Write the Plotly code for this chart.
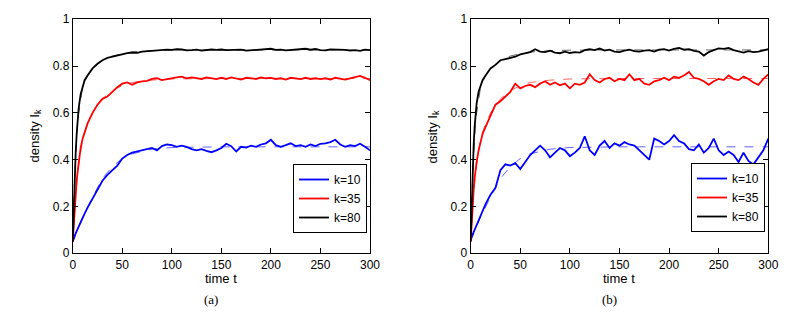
import plotly.graph_objects as go

# time grid of the simulated curves
t = [0, 1, 2, 3, 4, 5, 6, 8, 10, 12, 15,
     20, 25, 30, 35, 40, 45, 50, 55, 60, 65, 70, 75, 80, 85, 90, 95, 100,
     105, 110, 115, 120, 125, 130, 135, 140, 145, 150, 155, 160, 165, 170,
     175, 180, 185, 190, 195, 200, 205, 210, 215, 220, 225, 230, 235, 240,
     245, 250, 255, 260, 265, 270, 275, 280, 285, 290, 295, 300]

# panel (a)
a_k10 = [0.05, 0.065, 0.075, 0.085, 0.095, 0.105, 0.115, 0.135, 0.15, 0.17, 0.195,
         0.235, 0.275, 0.31, 0.335, 0.355, 0.375, 0.405, 0.42, 0.43, 0.435, 0.44, 0.445, 0.45, 0.44, 0.458, 0.465, 0.462,
         0.455, 0.46, 0.455, 0.445, 0.44, 0.445, 0.438, 0.432, 0.44, 0.45, 0.468, 0.458, 0.435, 0.455,
         0.452, 0.46, 0.455, 0.465, 0.47, 0.485, 0.462, 0.455, 0.462, 0.47, 0.458, 0.462, 0.455, 0.465,
         0.458, 0.468, 0.47, 0.475, 0.485, 0.465, 0.455, 0.462, 0.458, 0.468, 0.455, 0.44]
a_k35 = [0.05, 0.13, 0.2, 0.26, 0.31, 0.35, 0.39, 0.45, 0.49, 0.52, 0.555,
         0.6, 0.635, 0.66, 0.67, 0.69, 0.71, 0.725, 0.73, 0.72, 0.73, 0.735, 0.737, 0.745, 0.748, 0.74, 0.745, 0.748,
         0.752, 0.755, 0.748, 0.752, 0.75, 0.745, 0.752, 0.748, 0.744, 0.75, 0.745, 0.752, 0.748, 0.742,
         0.75, 0.748, 0.745, 0.752, 0.748, 0.75, 0.745, 0.748, 0.742, 0.75, 0.746, 0.744, 0.75, 0.745,
         0.748, 0.744, 0.748, 0.742, 0.75, 0.745, 0.742, 0.748, 0.752, 0.758, 0.75, 0.74]
a_k80 = [0.05, 0.2, 0.33, 0.43, 0.51, 0.57, 0.62, 0.68, 0.71, 0.74, 0.76,
         0.79, 0.81, 0.825, 0.835, 0.84, 0.845, 0.853, 0.855, 0.858, 0.857, 0.862, 0.864, 0.866, 0.865, 0.868, 0.87, 0.869,
         0.872, 0.871, 0.867, 0.868, 0.87, 0.866, 0.87, 0.871, 0.869, 0.871, 0.868, 0.869, 0.867, 0.87,
         0.866, 0.868, 0.87, 0.869, 0.872, 0.874, 0.869, 0.87, 0.867, 0.868, 0.871, 0.872, 0.874, 0.87,
         0.873, 0.868, 0.867, 0.871, 0.87, 0.872, 0.869, 0.866, 0.868, 0.865, 0.87, 0.868]

# panel (b)
b_k10 = [0.06, 0.07, 0.08, 0.09, 0.1, 0.11, 0.12, 0.14, 0.16, 0.18, 0.21,
         0.25, 0.28, 0.355, 0.38, 0.375, 0.385, 0.36, 0.39, 0.42, 0.44, 0.46, 0.44, 0.41, 0.43, 0.45, 0.44, 0.415,
         0.43, 0.45, 0.5, 0.44, 0.42, 0.46, 0.48, 0.45, 0.47, 0.46, 0.475, 0.465, 0.46, 0.44,
         0.42, 0.4, 0.49, 0.48, 0.465, 0.48, 0.505, 0.48, 0.47, 0.445, 0.44, 0.465, 0.43, 0.45,
         0.49, 0.44, 0.42, 0.435, 0.42, 0.39, 0.43, 0.395, 0.38, 0.41, 0.44, 0.49]
b_k35 = [0.05, 0.14, 0.21, 0.27, 0.32, 0.36, 0.39, 0.44, 0.48, 0.51, 0.54,
         0.59, 0.635, 0.65, 0.67, 0.69, 0.725, 0.705, 0.715, 0.72, 0.71, 0.725, 0.735, 0.72, 0.73, 0.718, 0.725, 0.705,
         0.725, 0.72, 0.73, 0.765, 0.74, 0.73, 0.745, 0.75, 0.735, 0.745, 0.74, 0.765, 0.74, 0.745,
         0.725, 0.72, 0.735, 0.74, 0.75, 0.74, 0.755, 0.75, 0.76, 0.775, 0.75, 0.745, 0.735, 0.72,
         0.735, 0.745, 0.74, 0.76, 0.745, 0.74, 0.755, 0.745, 0.73, 0.72, 0.745, 0.765]
b_k80 = [0.05, 0.22, 0.36, 0.46, 0.54, 0.6, 0.64, 0.69, 0.72, 0.74, 0.76,
         0.79, 0.805, 0.825, 0.83, 0.835, 0.84, 0.85, 0.855, 0.86, 0.872, 0.862, 0.86, 0.866, 0.858, 0.855, 0.862, 0.856,
         0.86, 0.858, 0.868, 0.872, 0.868, 0.875, 0.866, 0.87, 0.862, 0.86, 0.866, 0.87, 0.864, 0.862,
         0.866, 0.868, 0.862, 0.87, 0.872, 0.866, 0.874, 0.878, 0.87, 0.872, 0.865, 0.862, 0.845, 0.86,
         0.868, 0.876, 0.874, 0.878, 0.868, 0.862, 0.858, 0.864, 0.86, 0.862, 0.866, 0.872]

# mean-field (dashed) curves, same for both panels
tm = [0, 2, 5, 10, 15, 20, 30, 40, 50, 60, 80, 100, 150, 200, 250, 300]
m_k10 = [0.05, 0.075, 0.105, 0.155, 0.2, 0.24, 0.32, 0.37, 0.405, 0.425, 0.445, 0.452, 0.455, 0.455, 0.455, 0.455]
m_k35 = [0.05, 0.2, 0.35, 0.49, 0.555, 0.6, 0.66, 0.695, 0.717, 0.73, 0.74, 0.745, 0.747, 0.747, 0.747, 0.747]
m_k80 = [0.05, 0.33, 0.57, 0.71, 0.76, 0.79, 0.825, 0.843, 0.853, 0.86, 0.866, 0.868, 0.869, 0.869, 0.869, 0.869]

labels = ["k=10", "k=35", "k=80"]
colors = ["#0000ff", "#ff0000", "#000000"]
FONT = "Liberation Sans, Arial, sans-serif"

fig = go.Figure()

panels = [
    ("x", "y", "legend", [a_k10, a_k35, a_k80]),
    ("x2", "y2", "legend2", [b_k10, b_k35, b_k80]),
]
for xa, ya, lg, series in panels:
    for m, c in zip([m_k10, m_k35, m_k80], colors):
        fig.add_trace(go.Scatter(x=tm, y=m, mode="lines", xaxis=xa, yaxis=ya,
                                 line=dict(color=c, width=1, dash="dash"),
                                 opacity=0.6, showlegend=False, hoverinfo="skip"))
    for s, c, name in zip(series, colors, labels):
        fig.add_trace(go.Scatter(x=t, y=s, mode="lines", name=name, xaxis=xa, yaxis=ya,
                                 legend=lg, line=dict(color=c, width=1.8)))

axis_common = dict(showline=True, linecolor="black", linewidth=1, mirror="ticks",
                   ticks="inside", ticklen=5, tickcolor="black", showgrid=False,
                   zeroline=False, automargin=False,
                   tickfont=dict(family=FONT, size=12, color="black"))

xt = [0, 50, 100, 150, 200, 250, 300]
yt = [0, 0.2, 0.4, 0.6, 0.8, 1]

# page body adds an 8px offset, so the figure is 8px smaller than the window
W, H = 801, 312

fig.update_layout(
    width=W, height=H,
    margin=dict(l=0, r=0, t=0, b=0),
    paper_bgcolor="white", plot_bgcolor="white",
    font=dict(family=FONT, size=12, color="black"),
    xaxis=dict(domain=[0.0808, 0.4519], range=[0, 300], tickvals=xt, anchor="y", **axis_common),
    yaxis=dict(domain=[0.2138, 0.9638], range=[0, 1], tickvals=yt, anchor="x", **axis_common),
    xaxis2=dict(domain=[0.5776, 0.9492], range=[0, 300], tickvals=xt, anchor="y2", **axis_common),
    yaxis2=dict(domain=[0.2138, 0.9638], range=[0, 1], tickvals=yt, anchor="x2", **axis_common),
    legend=dict(x=0.4482, y=0.2788, xanchor="right", yanchor="bottom",
                bgcolor="white", bordercolor="black", borderwidth=1,
                font=dict(family=FONT, size=12), itemwidth=30, tracegroupgap=0),
    legend2=dict(x=0.9451, y=0.282, xanchor="right", yanchor="bottom",
                 bgcolor="white", bordercolor="black", borderwidth=1,
                 font=dict(family=FONT, size=12), itemwidth=30, tracegroupgap=0),
    showlegend=True,
)

# axis titles and panel captions
for xc in [212.7, 610.7]:
    fig.add_annotation(text="time t", x=xc / W, y=1 - 270.5 / H, xref="paper", yref="paper",
                       xanchor="center", yanchor="middle", showarrow=False,
                       font=dict(family=FONT, size=13))
for xc in [27, 425]:
    fig.add_annotation(text="density I<sub>k</sub>", x=xc / W, y=1 - 128.5 / H, xref="paper",
                       yref="paper", xanchor="center", yanchor="middle", textangle=-90,
                       showarrow=False, font=dict(family=FONT, size=13))
for txt, xc in [("(a)", 203), ("(b)", 601)]:
    fig.add_annotation(text=txt, x=xc / W, y=1 - 291 / H, xref="paper", yref="paper",
                       xanchor="center", yanchor="middle", showarrow=False,
                       font=dict(family="Liberation Serif, Times New Roman, serif", size=13))

fig.write_html("out.html")
